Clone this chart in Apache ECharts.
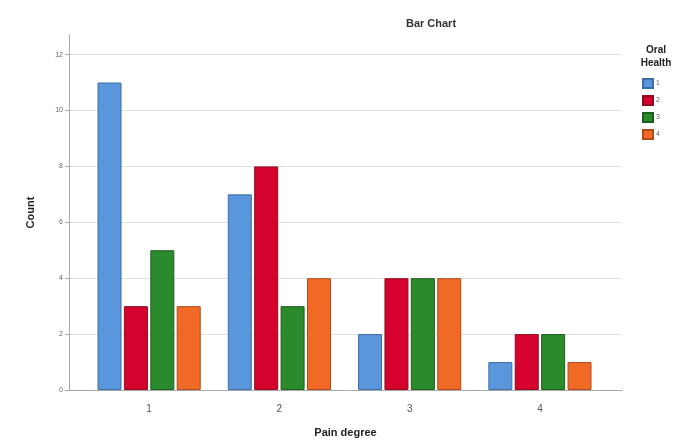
<!DOCTYPE html>
<html>
<head>
<meta charset="utf-8">
<script src="https://cdn.jsdelivr.net/npm/echarts@6/dist/echarts.min.js"></script>
<style>html,body{margin:0;padding:0;background:#fff}#c{width:677px;height:441px}</style>
</head>
<body>
<div id="c"></div>
<script>
var categories = [1, 2, 3, 4];
var seriesNames = ['1', '2', '3', '4'];
var oral1 = [11, 7, 2, 1];
var oral2 = [3, 8, 4, 2];
var oral3 = [5, 3, 4, 2];
var oral4 = [3, 4, 4, 1];
var yTicks = [0, 2, 4, 6, 8, 10, 12];
var colors = ['#5a96dc', '#d4022d', '#2b8a2b', '#f06a26'];
var borders = ['#3f6fa8', '#8f0b22', '#1e5e1e', '#b24a18'];

var allData = [oral1, oral2, oral3, oral4];
var chart = echarts.init(document.getElementById('c'));
var series = allData.map(function (vals, i) {
  return {
    name: seriesNames[i],
    type: 'bar',
    barWidth: 24,
    barGap: '10%',
    data: categories.map(function (c, j) { return [c, vals[j]]; }),
    itemStyle: { color: colors[i], borderColor: borders[i], borderWidth: 1 }
  };
});

chart.setOption({
  animation: false,
  backgroundColor: '#fff',
  title: [{
    text: 'Bar Chart', left: 426, top: 13, textAlign: 'center',
    textStyle: { fontFamily: 'Liberation Sans', fontSize: 11, fontWeight: 'bold', color: '#333' }
  }, {
    text: 'Oral\nHealth', left: 651, top: 39, textAlign: 'center',
    textStyle: { fontFamily: 'Liberation Sans', fontSize: 10, fontWeight: 'bold', color: '#222', lineHeight: 13 }
  }],
  legend: {
    orient: 'vertical', left: 642, top: 78, itemWidth: 10, itemHeight: 9, itemGap: 6,
    icon: 'rect', padding: 0,
    textStyle: { fontFamily: 'Liberation Sans', fontSize: 7, lineHeight: 9, color: '#666', padding: [0, 0, 0, -2] },
    data: seriesNames
  },
  grid: { left: 69, right: 55, top: 35, bottom: 51, outerBoundsMode: 'none' },
  xAxis: {
    type: 'value', min: 0.385, max: 4.63,
    name: 'Pain degree', nameLocation: 'middle', nameGap: 37,
    nameTextStyle: { fontFamily: 'Liberation Sans', fontSize: 11, fontWeight: 'bold', color: '#222' },
    axisLine: { show: true, lineStyle: { color: '#aaa', width: 1 } },
    axisTick: { show: false, customValues: categories },
    splitLine: { show: false },
    axisLabel: { customValues: categories, fontFamily: 'Liberation Sans', fontSize: 10, color: '#555', margin: 14 }
  },
  yAxis: {
    type: 'value', min: 0, max: 12.7,
    name: 'Count', nameLocation: 'middle', nameGap: 33, nameRotate: 90,
    nameTextStyle: { fontFamily: 'Liberation Sans', fontSize: 11, fontWeight: 'bold', color: '#222' },
    axisLine: { show: true, lineStyle: { color: '#aaa', width: 1 } },
    axisTick: { show: true, customValues: yTicks, length: 4, lineStyle: { color: '#aaa' } },
    splitLine: { show: true, lineStyle: { color: '#e2e2e2', width: 1 } },
    axisLabel: { customValues: yTicks, fontFamily: 'Liberation Sans', fontSize: 7, color: '#666', margin: 6 }
  },
  series: series
});
</script>
</body>
</html>
